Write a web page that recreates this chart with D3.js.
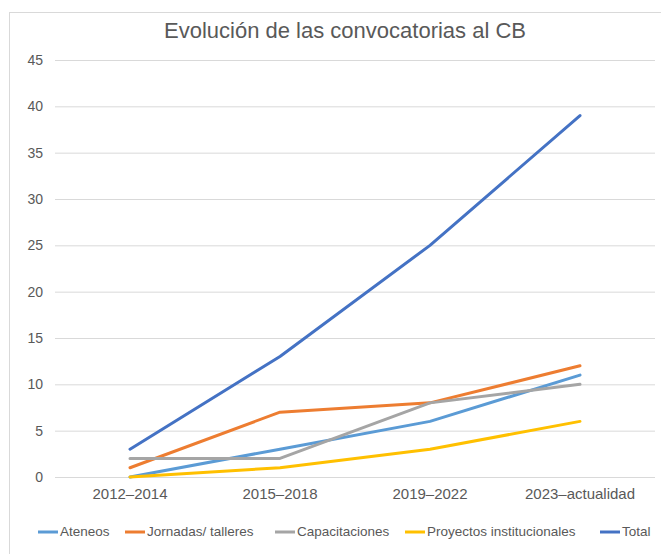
<!DOCTYPE html>
<html>
<head>
<meta charset="utf-8">
<script src="https://cdn.jsdelivr.net/npm/d3@7"></script>
<style>
  body { margin: 0; background: #fff; }
  svg { font-family: "Liberation Sans", "DejaVu Sans", sans-serif; }
</style>
</head>
<body>
<div id="chart"></div>
<script>
  // categories and series
  const periods = ["2012–2014", "2015–2018", "2019–2022", "2023–actualidad"];
  const seriesNames = ["Ateneos", "Jornadas/ talleres", "Capacitaciones", "Proyectos institucionales", "Total"];
  const ateneos = [0, 3, 6, 11];
  const jornadas = [1, 7, 8, 12];
  const capacitaciones = [2, 2, 8, 10];
  const proyectos = [0, 1, 3, 6];
  const total = [3, 13, 25, 39];
  const yTicks = [0, 5, 10, 15, 20, 25, 30, 35, 40, 45];
  const colors = ["#5B9BD5", "#ED7D31", "#A5A5A5", "#FFC000", "#4472C4"];

  const series = [ateneos, jornadas, capacitaciones, proyectos, total]
    .map((values, i) => ({ name: seriesNames[i], values, color: colors[i] }));

  const width = 661;
  const height = 554;
  const margin = { top: 60, right: 6, bottom: 77, left: 55 };
  const textColor = "#595959";

  const svg = d3.select("#chart")
    .append("svg")
    .attr("width", width)
    .attr("height", height);

  // chart frame
  svg.append("rect")
    .attr("x", 9.5)
    .attr("y", 12.5)
    .attr("width", width)
    .attr("height", height)
    .attr("fill", "none")
    .attr("stroke", "#d9d9d9");

  svg.append("text")
    .attr("x", 345)
    .attr("y", 38)
    .attr("text-anchor", "middle")
    .attr("font-size", "22px")
    .attr("fill", textColor)
    .text("Evolución de las convocatorias al CB");

  const x = d3.scaleBand()
    .domain(periods)
    .range([margin.left, width - margin.right]);

  const y = d3.scaleLinear()
    .domain([0, 45])
    .range([height - margin.bottom, margin.top]);

  // y axis with gridlines
  svg.append("g")
    .attr("transform", `translate(${margin.left},0)`)
    .call(d3.axisLeft(y)
      .tickValues(yTicks)
      .tickSize(-(width - margin.left - margin.right))
      .tickPadding(12))
    .call(g => g.select(".domain").remove())
    .call(g => g.selectAll(".tick line").attr("stroke", "#d9d9d9"))
    .call(g => g.selectAll(".tick text")
      .attr("font-size", "14px")
      .attr("fill", textColor));

  // x axis labels
  svg.append("g")
    .attr("transform", `translate(0,${height - margin.bottom})`)
    .call(d3.axisBottom(x).tickSize(0).tickPadding(11))
    .call(g => g.select(".domain").remove())
    .call(g => g.selectAll(".tick text")
      .attr("font-size", "15px")
      .attr("fill", textColor));

  const line = d3.line()
    .x((d, i) => x(periods[i]) + x.bandwidth() / 2)
    .y(d => y(d));

  svg.append("g")
    .selectAll("path")
    .data(series)
    .join("path")
    .attr("d", d => line(d.values))
    .attr("fill", "none")
    .attr("stroke", d => d.color)
    .attr("stroke-width", 3)
    .attr("stroke-linejoin", "round")
    .attr("stroke-linecap", "round");

  // legend
  const legendX = [38, 125, 275, 405, 600];
  const legend = svg.append("g")
    .attr("transform", "translate(0,532)");

  series.forEach((s, i) => {
    legend.append("line")
      .attr("x1", legendX[i])
      .attr("x2", legendX[i] + 20)
      .attr("y1", 0)
      .attr("y2", 0)
      .attr("stroke", s.color)
      .attr("stroke-width", 3);
    legend.append("text")
      .attr("x", legendX[i] + 22)
      .attr("y", 0)
      .attr("dominant-baseline", "middle")
      .attr("font-size", "13.5px")
      .attr("fill", textColor)
      .text(s.name);
  });
</script>
</body>
</html>
